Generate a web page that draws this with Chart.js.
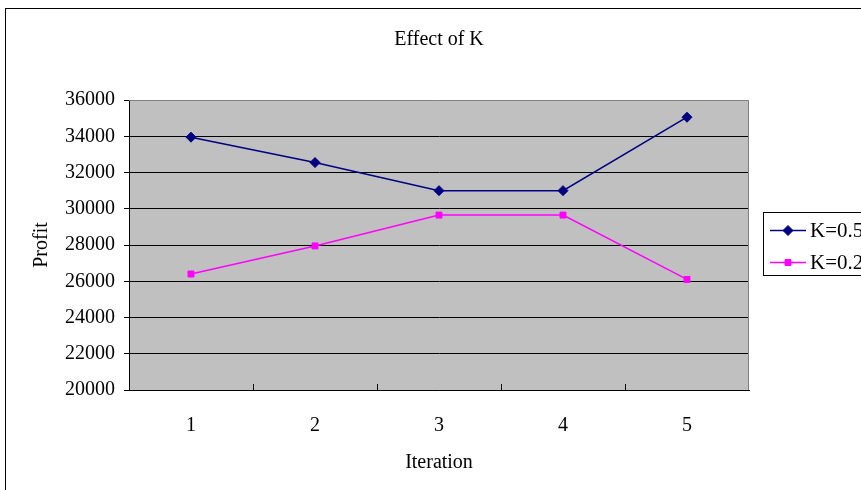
<!DOCTYPE html>
<html>
<head>
<meta charset="utf-8">
<script src="https://cdn.jsdelivr.net/npm/chart.js@4"></script>
<style>
  html, body { margin: 0; padding: 0; background: #fff; overflow: hidden; }
  #wrap { width: 861px; height: 490px; }
</style>
</head>
<body>
<div id="wrap"><canvas id="chart" width="861" height="490"></canvas></div>
<script>
// values
const iterations = ['1', '2', '3', '4', '5'];
const k05 = [33950, 32550, 31000, 31000, 35050];
const k02 = [26400, 27950, 29650, 29650, 26100];
const yTicks = [20000, 22000, 24000, 26000, 28000, 30000, 32000, 34000, 36000];
const chartTitle = 'Effect of K';

const serif = 'Liberation Serif, Times New Roman, serif';

// gray plot area, outer frame, title over the plot, small ticks between categories, legend box
const excelLook = {
    id: 'excelLook',
    beforeDraw: function(chart) {
        const ctx = chart.ctx;
        const a = chart.chartArea;
        ctx.save();
        ctx.fillStyle = '#fff';
        ctx.fillRect(0, 0, chart.width, chart.height);
        ctx.strokeStyle = '#000';
        ctx.lineWidth = 1;
        ctx.strokeRect(5.5, 8.5, chart.width + 20, chart.height + 20);
        ctx.fillStyle = '#c0c0c0';
        ctx.fillRect(a.left, a.top, a.right - a.left, a.bottom - a.top);
        ctx.restore();
    },
    afterDraw: function(chart) {
        const ctx = chart.ctx;
        const a = chart.chartArea;
        const x = chart.scales.x;
        ctx.save();
        ctx.lineWidth = 1;

        // title, centred on the plot
        ctx.fillStyle = '#000';
        ctx.font = '20px ' + serif;
        ctx.textAlign = 'center';
        ctx.textBaseline = 'middle';
        ctx.fillText(chartTitle, (a.left + a.right) / 2, 40);

        // top and right edge of the plot
        ctx.strokeStyle = '#808080';
        ctx.beginPath();
        ctx.moveTo(a.left, a.top + 0.5);
        ctx.lineTo(a.right - 0.5, a.top + 0.5);
        ctx.lineTo(a.right - 0.5, a.bottom);
        ctx.stroke();
        // tick marks between categories, pointing up into the plot
        ctx.strokeStyle = '#000';
        ctx.beginPath();
        for (let i = 0; i < iterations.length - 1; i++) {
            const px = Math.round((x.getPixelForValue(i) + x.getPixelForValue(i + 1)) / 2) + 0.5;
            ctx.moveTo(px, a.bottom);
            ctx.lineTo(px, a.bottom - 6);
        }
        ctx.stroke();

        // legend
        ctx.strokeStyle = '#000';
        ctx.lineWidth = 1;
        ctx.strokeRect(763.5, 212.5, 140, 63);
        ctx.font = '21px ' + serif;
        ctx.textBaseline = 'middle';
        ctx.textAlign = 'left';
        chart.data.datasets.forEach(function(ds, i) {
            const y = 230 + i * 32;
            ctx.strokeStyle = ds.borderColor;
            ctx.fillStyle = ds.backgroundColor;
            ctx.lineWidth = ds.borderWidth;
            ctx.beginPath();
            ctx.moveTo(770, y + 0.5);
            ctx.lineTo(806, y + 0.5);
            ctx.stroke();
            ctx.lineWidth = 1;
            Chart.helpers.drawPoint(ctx, {
                pointStyle: ds.pointStyle,
                radius: ds.pointRadius,
                borderWidth: 1
            }, 788, y + 0.5);
            ctx.fillStyle = '#000';
            ctx.fillText(ds.label, 810, y + 1);
        });
        ctx.restore();
    }
};

const ctx = document.getElementById('chart').getContext('2d');
const the_chart = new Chart(ctx, {
    type: 'line',
    data: {
        labels: iterations,
        datasets: [{
            label: 'K=0.5',
            data: k05,
            borderColor: '#000080',
            backgroundColor: '#000080',
            borderWidth: 1.5,
            pointStyle: 'rectRot',
            pointRadius: 5,
            pointBorderWidth: 1,
            tension: 0
        }, {
            label: 'K=0.2',
            data: k02,
            borderColor: '#ff00ff',
            backgroundColor: '#ff00ff',
            borderWidth: 1.5,
            pointStyle: 'rect',
            pointRadius: 4.2,
            pointBorderWidth: 1,
            tension: 0
        }]
    },
    options: {
        responsive: false,
        animation: false,
        layout: { padding: { left: 0, right: 112, top: 100, bottom: 0 } },
        plugins: {
            legend: { display: false },
            tooltip: { enabled: false },
            title: { display: false }
        },
        scales: {
            x: {
                type: 'category',
                offset: true,
                grid: { display: false, drawTicks: false },
                border: { display: true, color: '#000', width: 1 },
                ticks: {
                    color: '#000',
                    padding: 24,
                    font: { family: serif, size: 20 }
                },
                title: {
                    display: true,
                    text: 'Iteration',
                    color: '#000',
                    font: { family: serif, size: 20 },
                    padding: { top: 0, bottom: 15 }
                },
                afterFit: function(scale) { scale.height = 100; }
            },
            y: {
                min: yTicks[0],
                max: yTicks[yTicks.length - 1],
                afterBuildTicks: function(scale) {
                    scale.ticks = yTicks.map(function(v) { return { value: v }; });
                },
                grid: {
                    color: function(c) { return c.tick && c.tick.value === 36000 ? 'rgba(0,0,0,0)' : '#000'; },
                    tickColor: '#000',
                    tickLength: 5,
                    lineWidth: 1
                },
                border: { display: true, color: '#000', width: 1 },
                ticks: {
                    color: '#000',
                    padding: 9,
                    font: { family: serif, size: 20 },
                    callback: function(v) { return String(v); }
                },
                title: {
                    display: true,
                    text: 'Profit',
                    color: '#000',
                    font: { family: serif, size: 20 },
                    padding: { top: 30, bottom: 0 }
                },
                afterFit: function(scale) { scale.width = 129; }
            }
        }
    },
    plugins: [excelLook]
});
</script>
</body>
</html>
